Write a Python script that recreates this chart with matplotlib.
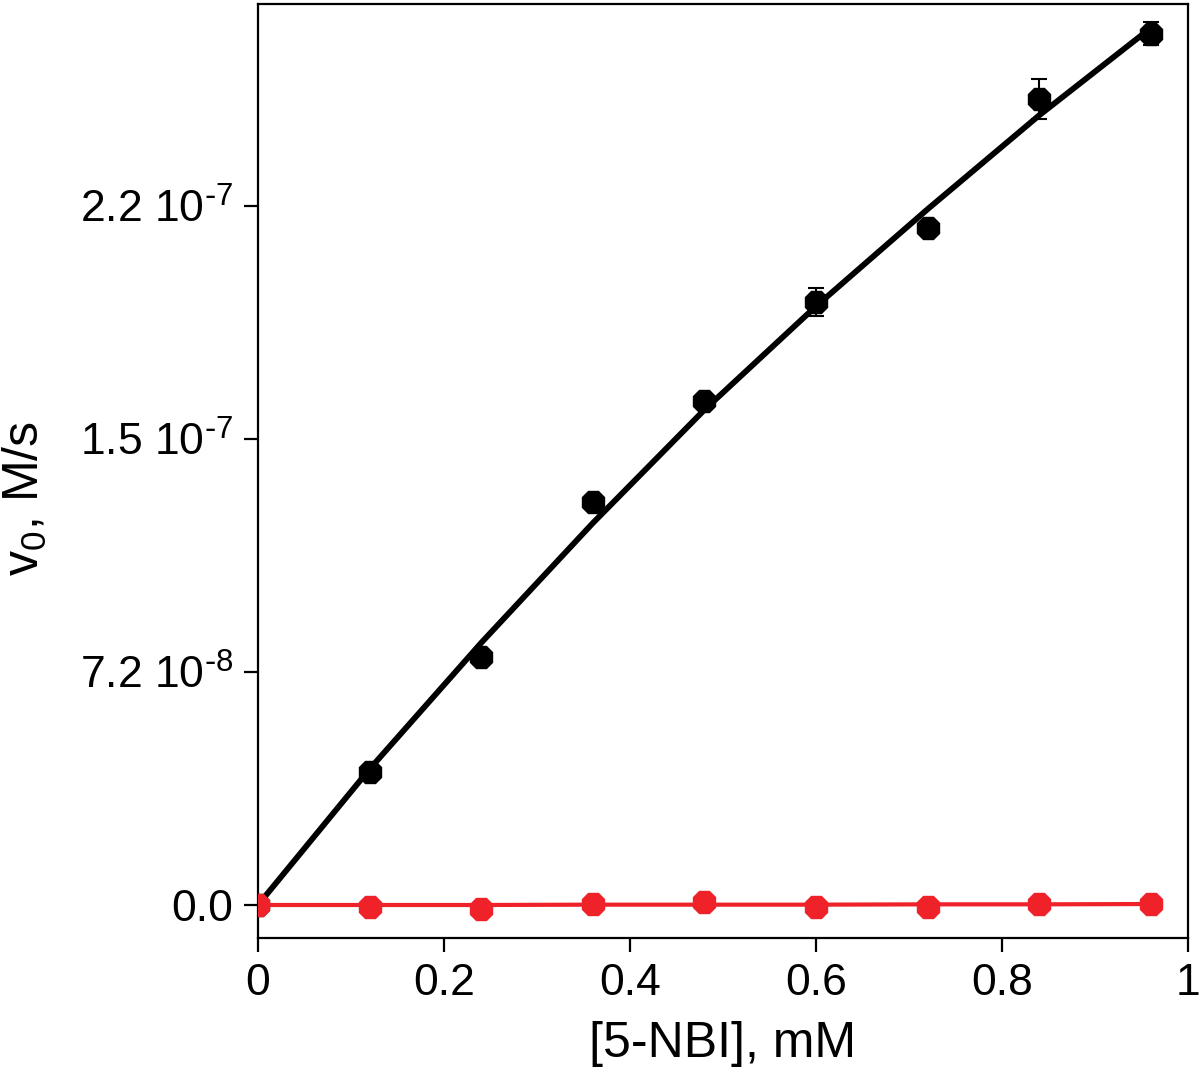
import matplotlib
matplotlib.use("Agg")
import matplotlib.pyplot as plt
from matplotlib.ticker import FixedLocator, FixedFormatter

plt.rcParams['font.family'] = ['Liberation Sans', 'DejaVu Sans']
plt.rcParams['mathtext.default'] = 'regular'

# Data
conc = [0.0, 0.12, 0.24, 0.36, 0.48, 0.60, 0.72, 0.84, 0.96]
v_black = [0.0, 4.10e-8, 7.65e-8, 1.246e-7, 1.557e-7, 1.862e-7, 2.091e-7, 2.491e-7, 2.692e-7]
err_black = [0.0, 1.5e-9, 1.5e-9, 2.0e-9, 2.0e-9, 4.3e-9, 1.5e-9, 6.2e-9, 3.5e-9]
fit_black = [0.0, 4.2e-8, 8.1e-8, 1.18e-7, 1.53e-7, 1.85e-7, 2.15e-7, 2.44e-7, 2.71e-7]
v_red = [0.0, -6e-10, -1.2e-9, 3e-10, 9e-10, -6e-10, -6e-10, 3e-10, 3e-10]
fit_red = [0.0, 0.0, 0.0, 1e-10, 1e-10, 1e-10, 2e-10, 2e-10, 3e-10]

yticks = [0.0, 7.2e-8, 1.44e-7, 2.16e-7]
ytick_labels = ['0.0', r'7.2 10$^{\text{-}8}$', r'1.5 10$^{\text{-}7}$', r'2.2 10$^{\text{-}7}$']
xticks = [0, 0.2, 0.4, 0.6, 0.8, 1.0]
xtick_labels = ['0', '0.2', '0.4', '0.6', '0.8', '1']

fig = plt.figure(figsize=(12, 10.88), dpi=100)
ax = fig.add_axes([258/1200, 150/1088, 930/1200, 934/1088])

ax.plot(conc, fit_black, color='black', lw=4.2, zorder=2, solid_capstyle='round')
ax.errorbar(conc, v_black, yerr=err_black, fmt='8', color='black', ms=17,
            ecolor='black', elinewidth=1.5, capsize=6, capthick=1.5, zorder=3)
ax.plot(conc, fit_red, color='#ee2228', lw=3, zorder=4)
ax.plot(conc, v_red, linestyle='none', marker='8', color='#ee2228', ms=17, zorder=5)

ax.set_xlim(0, 1.0)
ax.set_ylim(-1.02e-8, 2.784e-7)

ax.xaxis.set_major_locator(FixedLocator(xticks))
ax.xaxis.set_major_formatter(FixedFormatter(xtick_labels))
ax.yaxis.set_major_locator(FixedLocator(yticks))
ax.yaxis.set_major_formatter(FixedFormatter(ytick_labels))

for s in ax.spines.values():
    s.set_linewidth(1.6)
ax.tick_params(axis='both', direction='out', length=10, width=1.6, labelsize=32)
ax.tick_params(axis='y', pad=8)
ax.tick_params(axis='x', pad=8)

ax.set_xlabel('[5-NBI], mM', fontsize=36, labelpad=12)
ax.set_ylabel('v$_0$, M/s', fontsize=36)
ax.yaxis.set_label_coords(-0.225, 0.47)

fig.savefig('out.png', dpi=100)
